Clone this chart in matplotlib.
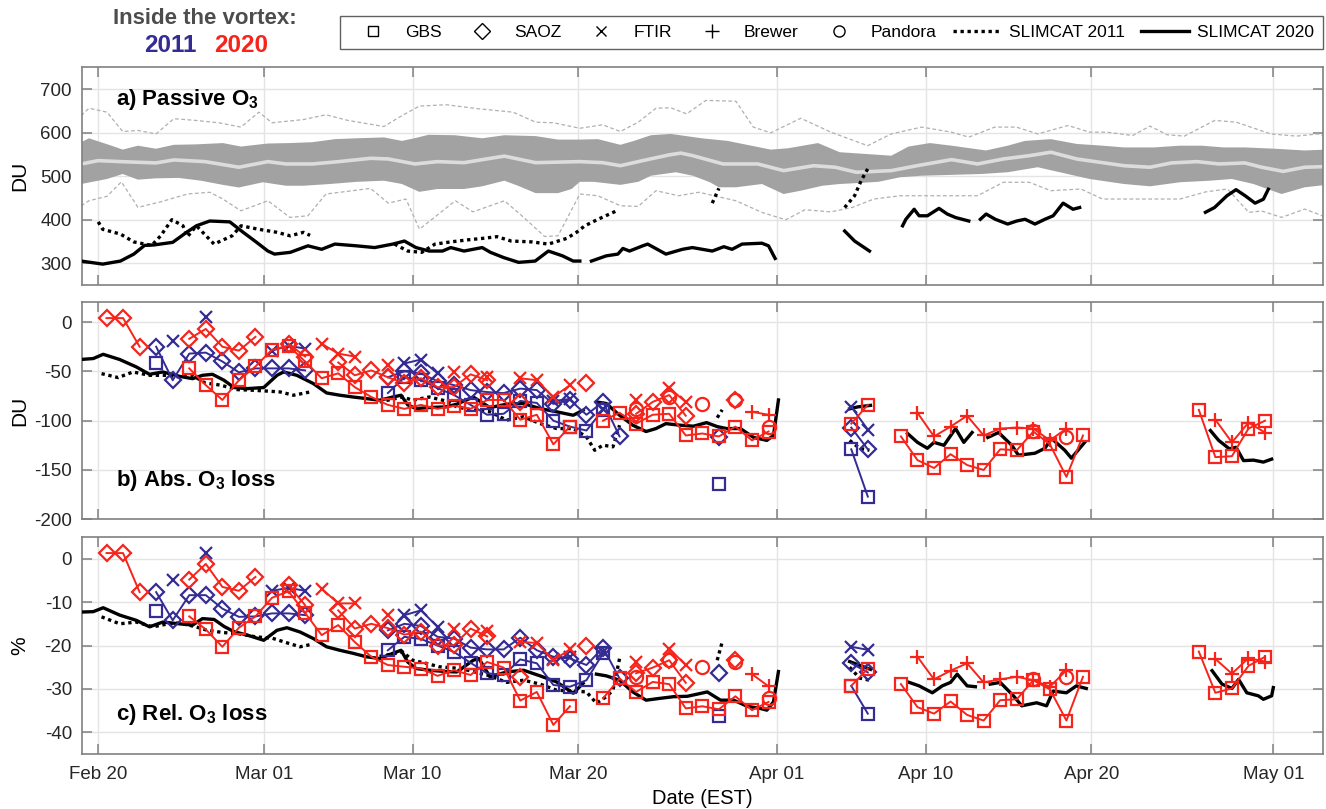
import numpy as np
import matplotlib
matplotlib.use('Agg')
import matplotlib.pyplot as plt
import matplotlib.dates as mdates
from matplotlib.lines import Line2D
from datetime import datetime

nan = np.nan

# ---------------- data (days since 2020-02-20 00:00 EST) ----------------
# Panel a: passive ozone statistics
hi_day = [-1.03,-0.56,0.8,1.48,2.4,3.49,4.57,5.9,7.53,8.62,10.25,11.58,12.94,14.3,15.63,17.26,18.35,19.1,19.96,21.55,23.2,24.54,26.43,27.78,29.1,30.19,31.55,32.37,33.4,34.6,36.46,38.02,40.63,41.67,43.49,44.8,46.36,47.92,48.96,50.25,51.56,53.64,54.95,56,57.56,59.12,60.68,61.98,63.8,65.36,66.67,67.98,69.27,71.1,72.9,74.2]
hi_val = [578,587,570,561,570,563,572,573,576,568,575,576,578,585,587,589,581,587,595,594,587,594,592,584,584,585,572,581,594,597,587,581,561,564,576,555,551,547,568,576,570,559,570,581,585,574,570,566,566,570,570,566,566,563,559,561]
lo_day = [-1.03,0.53,1.48,2.4,3.49,4.85,6.2,7.53,8.5,9.95,11.34,12.4,14,15.63,17.26,18.35,19.4,20.5,22.1,23.2,24.54,25.36,26.43,27.78,28.6,29.1,29.94,31.55,32.63,33.4,34.9,35.93,36.96,37.5,38.53,40.1,41.41,42.45,43.75,44.8,45.8,47.14,48.45,49.75,51.56,53.39,54.95,56.77,58.1,59.9,61.98,63.55,65.36,67.17,68.5,69.8,71.5,72.9,74.2]
lo_val = [482,493.5,505,492,495,496,489.6,480,474,486,478,478,482,487,489.6,482,464,470.5,470.5,476.7,489.6,478,461,461,470.5,487,487,480,487,501,509,501,486,474.4,474.4,482,459,466.6,478,482,484,487,497.5,501,503,505,509,520.5,509,493.5,482,476.7,486,489.6,493.5,482,459,474.4,480]
mean_day = [-1.03,0,1.34,3.49,4.57,6.45,8.5,10.25,11.34,12.94,14.54,16.45,17.53,19.14,20.5,22.1,23.46,24.54,26.43,29.1,30.48,31.55,32.9,34.52,35.2,35.93,37.75,39.85,41.41,43.23,44.53,45.8,47.92,49.47,51.56,53.13,54.69,56.25,57.56,59.12,60.68,61.98,63.55,64.85,66.4,67.72,69.27,70.3,71.6,72.9,74.2]
mean_val = [528,535.7,533.4,530.4,537.3,533.4,520.5,533.4,528,528,533.4,541,539.5,528,533.4,531,539.5,546,531,533.4,531,524,535.7,549,553,547,528,528,512.7,524,520.5,509,512.7,524,538,528,539.5,547,555,539.5,531,524,520.5,530.4,533.4,528,530.4,520.5,511,520.5,522]
max_day = [-1.03,-0.56,0.53,1.48,2.4,3.49,4.57,5.9,7.28,8.62,9.71,10.5,12.4,13.76,15.09,17.26,18.35,19.41,21.03,22.92,25.06,26.43,27.51,29.1,30.48,31.55,32.63,33.7,34.6,35.55,36.72,38.53,39.58,40.63,42.45,44.27,46.49,47.92,49.75,51.56,52.6,54.17,55.47,56.77,58.6,59.9,60.95,62.5,63.55,64.59,65.63,67.46,68.76,70.84,72.4,73.7,74.2]
max_val = [639,656,647,602.5,605,597,632,628,622.6,612.7,647,622.6,630,641,628,614,639,661,664,655,647,624,622.6,610,618,602.5,624,656,657,643,674,672,612.7,599.5,633,601,570,597,612.7,601,589.6,612.7,612.7,597,616.4,601,601,593.3,615,595,592,628,624,597,592,597,590]
min_day = [-1.03,-0.56,0.53,1.4,2.4,3.77,5.39,6.74,7.53,8.62,10.25,11.58,12.67,13.76,15.37,16.45,17.53,18.59,19.41,21.58,22.64,24.54,25.6,26.97,27.78,29.1,30.19,31.55,32.63,33.7,35.06,36.3,38.53,40.1,41.54,42.7,44.27,45.57,46.87,48.45,50.02,51.56,53.13,54.69,56.25,57.56,59.38,60.68,62.76,65.36,66.93,68.23,69.52,70.3,71.5,72.9,73.7,74.2]
min_val = [432,443.5,453.7,487,428.3,441,459,463,447.5,420.5,443.5,405.3,409,459,466.6,472,438,447.5,378.3,443.5,418,443.5,409,361.5,363,459,455,432,430.6,466.6,455,463,443.5,416.8,399.8,422.8,418,428.3,447.5,455,455,455,455,486,486,466.6,470.5,447.5,447.5,447.5,464,470.5,416.8,420,405.3,424.4,412.9,405]

# SLIMCAT 2020 (solid) and 2011 (dotted); nan separates segments
s20a_day = [-1.03,0.27,1.34,2.15,2.8,3.36,4.5,5.3,5.93,6.74,7.95,8.76,9.57,10.25,10.65,11.6,12.67,13.5,14.3,15.6,16.7,17.8,18.5,19.2,20,20.8,21.3,22.1,23.2,23.7,24.5,25.4,26.4,27.2,28.05,28.7,29.1, nan,
            29.8,30.7,31.4,31.7,32.1,32.9,33.2,34.3,35.3,35.9,37.1,37.8,38.3,38.9,40.1,40.5,40.9, nan,
            45.1,45.7,46.6, nan, 48.6,48.8,49.3,49.6,50.1,50.8,51.3,51.8,52.6, nan,
            53.3,53.65,54.2,54.95,55.5,56,56.6,57.2,57.7,58.3,58.9,59.3, nan,
            66.9,67.45,68.2,68.75,69.3,69.9,70.4,70.7]
s20a_val = [305,298,305,321,341,342,348,370,386,397,395,371,348,328,321,325,340,332,344,340,336,344,351,336,328,328,336,328,336,325,313,302,305,328,317,305,305, nan,
            305,317,321,334,328,340,344,321,332,336,328,338,332,344,346,340,311, nan,
            374,351,328, nan, 386,401,424,409,409,426,413,405,397, nan,
            401,413,401,390,397,401,390,401,409,438,424,428, nan,
            417,428,455,469,455,438,447,470]
s11a_day = [0,0.27,1.34,2.15,3.23,3.77,4.45,5.12,5.39,5.93,7.0,8.09,8.63,9.7,10.8,11.6,12.4,12.8, nan,
            17.9,18.7,19.55,20.35,21.3,22.4,23.2,24.1,24.95,26.2,27.2,28.3,28.9,29.4,30.2,31.3, nan,
            37.1,37.5, nan, 45.1,45.7,46.1,46.6]
s11a_val = [395,378,367,349,341,363,400,386,361,386,344,363,386,378,371,363,371,364, nan,
            344,328,325,344,349,354,357,361,351,349,344,357,371,386,401,420, nan,
            438,472, nan, 428,455,490,524]

s20b_day = [-1.1,-0.3,0.3,1.3,2.3,3.1,3.9,4.9,5.7,6.3,6.9,7.6,8.2,9,10,10.8,11.2,12,13,13.8,14.6,15.4,16.2,17,17.8,18.3,18.7,19.2,20,21,21.66,22.66,23.67,24.68,25.68,26.69,27.7,28.7,29.3, nan,
            30.1,30.7,31.5,32.3,33.1,33.7,34.3,35.15,35.96,36.76,37.4,37.97,38.8,39.6,40.4,40.8,41.1, nan,
            45.4,45.9,46.66, nan, 48.9,49.5,50.1,50.5,51.1,51.8,52.3,52.8, nan,
            53.75,54.4,55.2,55.6,56.6,57.2,57.6,58.4,58.8,59.6, nan,
            67.2,67.7,68.35,68.75,69.2,69.8,70.4,70.9]
s20b_val = [-38,-37,-32.7,-38,-45.5,-53,-50.6,-55,-57.4,-54,-53,-59,-66.4,-67.5,-66.4,-54,-50.6,-54,-62.4,-71.9,-74.2,-76,-77.6,-79.3,-76,-74.2,-84,-87.7,-86.7,-86,-83.3,-76,-86.7,-83.3,-82.6,-87.7,-91,-94.5,-89.4, nan,
            -81,-82.6,-94.5,-104.6,-111,-108,-103,-104.6,-105.6,-102,-106,-108,-108,-117,-120,-115,-79, nan,
            -88,-86,-84.5, nan, -113,-122,-128,-122,-125,-108,-122,-112, nan,
            -117,-112,-125,-135,-133,-128,-118,-130,-138,-122, nan,
            -110,-120,-128.6,-127,-140.5,-140,-142,-139]
s11b_day = [0.2,1.2,2.1,3.1,4.1,4.9,5.7,6.45,7.4,8.4,9.4,10.2,11,11.8,12.8, nan,
            17,18.4,19,20,21,21.66,22.66,23.67,24.68,25.68,26.69,27.7,28.7,29.5,30,30.5,31.1,31.5, nan,
            37.4,37.7, nan, 45.4,46,46.6]
s11b_val = [-52.3,-56.3,-50.6,-54,-54,-55.7,-54,-61.7,-64,-68.5,-69.2,-70,-70.9,-74.2,-70.9, nan,
            -81,-76,-79.3,-76,-80,-86,-89.4,-91,-99.5,-96,-102.9,-108,-108,-116.4,-130,-124.8,-126.5,-104.6, nan,
            -97,-89, nan, -120,-128,-130]

s20c_day = [-1.1,-0.3,0.3,1.3,2.3,3.1,3.9,4.9,5.7,6.3,7,7.6,8.2,9,10,10.8,11.4,12.2,13,13.8,14.6,15.4,16.2,17,17.8,18.3,18.7,19.2,20,21,21.66,22.66,23,23.67,24.68,25.7,26.7,27.7,28.7,29.3, nan,
            30.1,30.7,31.5,32.3,33.1,33.9,34.75,35.6,36.8,37.6,38.4,39.2,40,40.4,40.8,41.1, nan,
            45.4,46.66, nan, 49,49.6,50.4,51,51.5,51.9,52.5,53, nan,
            53.9,54.5,55.3,55.8,56.7,57.3,57.7,58.5,59.1,59.7, nan,
            67.3,67.9,68.5,68.9,69.4,70.1,70.4,70.9,71]
s20c_val = [-12.3,-12.2,-11.3,-13,-14.2,-15.7,-14.6,-15,-15.3,-13.8,-14,-15.6,-16.8,-17.6,-18.8,-16.5,-15.9,-16.9,-18.4,-20.3,-21.1,-21.8,-22.6,-23,-21.8,-21.1,-23.8,-25.3,-25.7,-26,-26.1,-23.4,-23,-27.2,-26.1,-25.7,-27,-28.4,-31,-28.7, nan,
            -26.6,-27,-28,-30.7,-32.6,-32.2,-31.8,-31.7,-30.7,-32.6,-32.6,-34,-34.5,-34.9,-33,-26, nan,
            -23.7,-25.5, nan, -28.5,-29.3,-30.9,-29.3,-28.5,-26.6,-29.3,-29.5, nan,
            -28.9,-28.5,-31.6,-33.9,-33.2,-33.9,-30.5,-30.9,-29.3,-29.9, nan,
            -25.8,-28.9,-29.9,-27.8,-30.9,-31.6,-32.4,-31.6,-29.7]
s11c_day = [0.2,1.3,2.3,3.3,4.1,4.9,5.9,6.5,7.5,8.5,9.5,10.5,11.5,12.2,12.8, nan,
            17,18.4,19,19.8,20.6,21.9,22.66,23.67,24.68,25.7,26.7,27.7,28.7,29.5,30.1,30.7,31.1,31.5, nan,
            37.4,37.7, nan, 45.4,46,46.6]
s11c_val = [-13.4,-15,-14.6,-15.7,-15.1,-14.8,-15.7,-16.4,-17,-17.3,-18,-18.3,-19.5,-20.3,-19.8, nan,
            -22.5,-21.5,-23.4,-24.1,-24.9,-25.3,-26,-27,-28.5,-28,-28.9,-30.3,-30.5,-30.7,-33.3,-31.8,-30.3,-23, nan,
            -23.4,-19.2, nan, -25,-27.5,-28]

# Ground-based instruments, 2020 (red)
gbs20_day = [5.5,6.5,7.5,8.5,9.5,10.5,11.5,12.5,13.5,14.5,15.5,16.5,17.5,18.5,19.5,20.5,21.5,22.5,23.5,24.5,25.5,26.5,27.5,28.5,
             30.5,31.5,32.5,33.5,34.5,35.5,36.5,37.5,38.5,39.5,40.5, 45.5,46.5,
             48.5,49.5,50.5,51.5,52.5,53.5,54.5,55.5,56.5,57.5,58.5,59.5, 66.5,67.5,68.5,69.5,70.5]
gbs20_abs = [-47,-64,-79,-59,-45,-28,-24,-40,-57,-52,-66,-76,-84,-88,-84,-88,-85,-88,-79,-79,-99,-94,-124,-106,
             -100,-92,-103,-94,-93,-115,-113,-116,-106,-120,-111, -103,-84,
             -116,-140,-148,-134,-145,-150,-129,-130,-111,-124,-157,-115, -89,-137,-136,-108,-100]
gbs20_rel = [-13.3,-16.3,-20.3,-15.9,-13.3,-9.0,-7.5,-12.5,-17.6,-15.3,-19.2,-22.6,-24.5,-24.9,-25.3,-27,-25.7,-26.8,-23.8,-25.1,-32.7,-30.7,-38.3,-34,
             -32.2,-27.6,-30.7,-28.4,-28.9,-34.5,-34,-34.7,-31.7,-34.9,-33, -29.3,-25.3,
             -28.9,-34.2,-35.7,-32.9,-36,-37.3,-32.6,-32.4,-28,-30.1,-37.3,-27.2, -21.4,-30.9,-29.9,-24.7,-22.6]
saoz20_day = [0.5,1.5,2.5, 5.5,6.5,7.5,8.5,9.5, 11.5,12.5, 14.5,15.5,16.5,17.5,18.5,19.5,20.5,21.5,22.5,23.5, 25.5, 29.5, 32.5,33.5,34.5,35.5, 38.5]
saoz20_abs = [4,4,-25, -17,-7,-25,-29,-15, -22,-35, -41,-54,-49,-56,-62,-57,-66,-66,-53,-59, -81, -62, -93,-81,-74,-95, -79]
saoz20_rel = [1.3,1.3,-7.7, -4.8,-1.2,-6.5,-7.4,-4.2, -6.1,-10.7, -11.9,-16.1,-15,-16,-17.5,-16.8,-20,-19.9,-16.1,-17.9, -27.2, -20.2, -26.4,-25.1,-23.4,-28.6, -23.4]
ftir20_day = [13.5,14.5,15.5, 17.5, 21.5, 23.5, 25.5,26.5,27.5,28.5, 32.5, 34.5,35.5]
ftir20_abs = [-22,-32,-35, -44, -51, -56, -57,-59,-76,-64, -79, -67,-81]
ftir20_rel = [-6.9,-10.3,-10.3, -13, -16.3, -16.6, -19.2,-19.4,-23.4,-20.9, -23.8, -20.7,-24.5]
brewer20_day = [39.5,40.5, 49.5,50.5,51.5,52.5,53.5,54.5,55.5,56.5,57.5,58.5, 67.5,68.5,69.5,70.5]
brewer20_abs = [-91,-94, -92,-116,-106,-95,-115,-108,-107,-108,-120,-108, -99,-122,-102,-112]
brewer20_rel = [-26.6,-29.4, -22.6,-27.8,-25.8,-24.1,-28.5,-27.8,-27.2,-28,-29.5,-25.7, -23.1,-26.5,-22.9,-23.7]
pandora20_day = [32.5, 34.5, 36.5, 38.5, 40.5, 56.5, 58.5]
pandora20_abs = [-88, -76, -83, -79, -106, -110, -117]
pandora20_rel = [-27.2, -23.4, -24.9, -23.8, -32.2, -27.8, -27.2]

# Ground-based instruments, 2011 (blue)
gbs11_day = [3.5, 17.5,18.5,19.5,20.5,21.5,22.5,23.5,24.5,25.5,26.5,27.5,28.5,29.5,30.5, 37.5, 45.5,46.5]
gbs11_abs = [-42, -72,-56,-59,-67,-74,-84,-94,-93,-80,-82,-100,-106,-110,-89, -164, -129,-177]
gbs11_rel = [-12, -21.1,-18,-18.5,-20,-21.5,-24,-26.4,-26.8,-23.2,-24.1,-29.1,-29.5,-28,-21.8, -36.3, -29.3,-35.7]
saoz11_day = [3.5,4.5,5.5,6.5,7.5,8.5,9.5,10.5,11.5,12.5, 17.5,18.5,19.5,20.5,21.5,22.5,23.5,24.5,25.5,26.5,27.5,28.5,29.5,30.5,31.5, 37.5, 45.5,46.5]
saoz11_abs = [-25,-59,-32,-31,-40,-51,-47,-47,-47,-49, -56,-50,-52,-60,-64,-69,-71,-72,-67.5,-69,-83,-79,-94,-81,-116, -117, -107,-129]
saoz11_rel = [-7.7,-14.2,-8.4,-8.4,-11.5,-13.4,-13.3,-12.6,-12.6,-13, -16.5,-15,-15.5,-18,-18.4,-20.5,-20.9,-20.9,-18.2,-21.1,-22.6,-23,-24.5,-20.5,-27.6, -26.4, -24.1,-26.2]
ftir11_day = [4.5, 6.5, 10.5,11.5,12.5, 18.5,19.5,20.5, 27.5,28.5, 30.5, 45.5,46.5]
ftir11_abs = [-19, 5, -29,-24,-27, -42,-38,-52, -80,-78, -88, -86,-109]
ftir11_rel = [-4.8, 1.3, -7.4,-6.7,-7.4, -13,-11.9,-15.7, -23,-22.6, -21.5, -20.3,-21]

tick_dates = [datetime(2020,2,20), datetime(2020,3,1), datetime(2020,3,10), datetime(2020,3,20),
              datetime(2020,4,1), datetime(2020,4,10), datetime(2020,4,20), datetime(2020,5,1)]

# ---------------- style ----------------
plt.rcParams['font.family'] = ['Liberation Sans', 'DejaVu Sans']
plt.rcParams['mathtext.fontset'] = 'custom'
plt.rcParams['mathtext.rm'] = 'Liberation Sans'
plt.rcParams['mathtext.bf'] = 'Liberation Sans:bold'
plt.rcParams['axes.unicode_minus'] = False

BLUE = '#342b94'
RED = '#f6241b'
SPINE = '#808080'
GRID = '#e4e4e4'
LW_MODEL = 2.4

BASE = mdates.date2num(datetime(2020, 2, 20))


def X(days):
    return BASE + np.asarray(days, float)


def gaps(days, vals):
    d = np.asarray(days, float)
    v = np.asarray(vals, float)
    brk = np.where(np.diff(d) > 1.01)[0] + 1
    return np.insert(d, brk, nan), np.insert(v, brk, nan)


fig = plt.figure(figsize=(13.26, 8.09), dpi=100)
L, W = 0.0616, 0.9361
axa = fig.add_axes([L, 0.6477, W, 0.2691])
axb = fig.add_axes([L, 0.3581, W, 0.2682])
axc = fig.add_axes([L, 0.0680, W, 0.2682])

for ax in (axa, axb, axc):
    ax.set_xlim(BASE - 1.0, BASE + 74.0)
    ax.xaxis.set_major_locator(plt.FixedLocator(mdates.date2num(tick_dates)))
    ax.xaxis.set_major_formatter(mdates.DateFormatter('%b %d'))
    ax.tick_params(direction='in', top=True, right=True, length=7, width=1.1,
                   color=SPINE, labelsize=13.5, labelcolor='#262626', pad=7)
    ax.grid(True, color=GRID, lw=1.0)
    ax.set_axisbelow(True)
    for s in ax.spines.values():
        s.set_color(SPINE)
        s.set_linewidth(1.2)

axa.tick_params(labelbottom=False)
axb.tick_params(labelbottom=False)
axc.tick_params(axis='x', pad=9)

# ---- panel a ----
axa.fill(np.r_[X(hi_day), X(lo_day)[::-1]], np.r_[hi_val, lo_val[::-1]],
         color='#a2a2a2', lw=0, zorder=1)
axa.plot(X(mean_day), mean_val, color='#dcdcdc', lw=2.6, zorder=2)
axa.plot(X(max_day), max_val, color='#b0b0b0', lw=0.9, ls=(0, (3, 2)), zorder=2)
axa.plot(X(min_day), min_val, color='#b0b0b0', lw=0.9, ls=(0, (3, 2)), zorder=2)
axa.plot(X(s20a_day), s20a_val, color='k', lw=LW_MODEL, zorder=3)
axa.plot(X(s11a_day), s11a_val, color='k', lw=LW_MODEL, ls=(0, (1, 1.1)), zorder=3)
axa.set_ylim(250, 750)
axa.set_yticks([300, 400, 500, 600, 700])
axa.set_ylabel('DU', fontsize=15)
axa.yaxis.set_label_coords(-0.042, 0.5)
axa.text(0.028, 0.85, r'a) Passive O$_\mathbf{3}$', transform=axa.transAxes,
         fontsize=16, fontweight='bold', va='center', ha='left')

# ---- panels b and c ----
instr11 = [(gbs11_day, gbs11_abs, gbs11_rel, 's', 8),
           (saoz11_day, saoz11_abs, saoz11_rel, 'D', 8.5),
           (ftir11_day, ftir11_abs, ftir11_rel, 'x', 8)]
instr20 = [(gbs20_day, gbs20_abs, gbs20_rel, 's', 8),
           (saoz20_day, saoz20_abs, saoz20_rel, 'D', 8.5),
           (ftir20_day, ftir20_abs, ftir20_rel, 'x', 8),
           (brewer20_day, brewer20_abs, brewer20_rel, '+', 10.5),
           (pandora20_day, pandora20_abs, pandora20_rel, 'o', 9.5)]

for ax, s20d, s20v, s11d, s11v, key in ((axb, s20b_day, s20b_val, s11b_day, s11b_val, 1),
                                        (axc, s20c_day, s20c_val, s11c_day, s11c_val, 2)):
    ax.plot(X(s20d), s20v, color='k', lw=LW_MODEL, zorder=3)
    ax.plot(X(s11d), s11v, color='k', lw=LW_MODEL, ls=(0, (1, 1.1)), zorder=3)
    for col, group in ((BLUE, instr11), (RED, instr20)):
        for entry in group:
            d, v = gaps(entry[0], entry[key])
            ax.plot(X(d), v, color=col, lw=1.4, marker=entry[3], ms=entry[4],
                    mfc='none', mec=col, mew=1.6, zorder=4)

axb.set_ylim(-200, 20)
axb.set_yticks([0, -50, -100, -150, -200])
axb.set_ylabel('DU', fontsize=15)
axb.yaxis.set_label_coords(-0.042, 0.5)
axb.text(0.028, 0.18, r'b) Abs. O$_\mathbf{3}$ loss', transform=axb.transAxes,
         fontsize=16, fontweight='bold', va='center', ha='left')

axc.set_ylim(-45, 5)
axc.set_yticks([0, -10, -20, -30, -40])
axc.set_ylabel('%', fontsize=15)
axc.yaxis.set_label_coords(-0.042, 0.5)
axc.text(0.028, 0.18, r'c) Rel. O$_\mathbf{3}$ loss', transform=axc.transAxes,
         fontsize=16, fontweight='bold', va='center', ha='left')
axc.set_xlabel('Date (EST)', fontsize=14.5, labelpad=4)

# ---- header ----
fig.text(205 / 1326, 1 - 19 / 809, 'Inside the vortex:', ha='center', va='center',
         fontsize=16, fontweight='bold', color='#4d4d4d')
fig.text(170 / 1326, 1 - 46 / 809, '2011', ha='center', va='center',
         fontsize=17.5, fontweight='bold', color=BLUE)
fig.text(241 / 1326, 1 - 46 / 809, '2020', ha='center', va='center',
         fontsize=17.5, fontweight='bold', color=RED)

handles = [Line2D([], [], color='k', marker='s', ms=7, mfc='none', mew=1.0, ls='none'),
           Line2D([], [], color='k', marker='D', ms=8, mfc='none', mew=1.0, ls='none'),
           Line2D([], [], color='k', marker='x', ms=7, mew=1.0, ls='none'),
           Line2D([], [], color='k', marker='+', ms=10, mew=1.0, ls='none'),
           Line2D([], [], color='k', marker='o', ms=8, mfc='none', mew=1.0, ls='none'),
           Line2D([], [], color='k', lw=LW_MODEL, ls=(0, (1, 1.1))),
           Line2D([], [], color='k', lw=LW_MODEL)]
labels = ['GBS', 'SAOZ', 'FTIR', 'Brewer', 'Pandora', 'SLIMCAT 2011', 'SLIMCAT 2020']
leg = fig.legend(handles, labels, loc='center', ncol=7, mode='expand',
                 bbox_to_anchor=(0.2564, 0.938, 0.7413, 0.0435), borderaxespad=0,
                 frameon=True, fancybox=False, edgecolor='#3a3a3a', fontsize=12.5,
                 handlelength=2.8, handletextpad=0.45, columnspacing=0.8,
                 borderpad=0.5)
leg.get_frame().set_linewidth(1.0)

fig.savefig('out.png', dpi=100)
